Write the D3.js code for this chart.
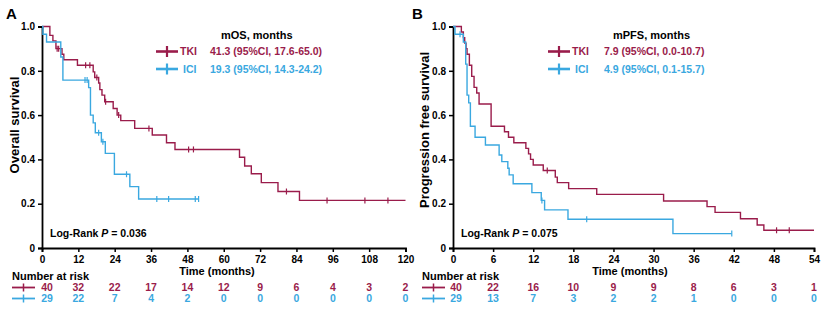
<!DOCTYPE html>
<html>
<head>
<meta charset="utf-8">
<script src="https://cdn.jsdelivr.net/npm/d3@7"></script>
<style>
  body { margin: 0; background: #fff; }
  svg { display: block; font-family: Arial, "Liberation Sans", sans-serif; font-weight: bold; }
</style>
</head>
<body>
<div id="chart"></div>
<script>
// ---- data ----
var red = "#9a1c4b", blue = "#3aa8e0";

// Panel A: overall survival
var osTkiTime = [2.6, 3.6, 4.6, 6.6, 7.2, 11.7, 16.9, 17.4, 18.7, 19.1, 19.8, 20.7, 23.5, 24.8, 26.0, 30.6, 36.4, 41.1, 43.9, 65.2, 66.9, 69.1, 72.4, 77.9, 85.0];
var osTkiSurv = [0.96, 0.935, 0.90, 0.875, 0.85, 0.825, 0.795, 0.77, 0.745, 0.715, 0.69, 0.66, 0.63, 0.60, 0.575, 0.54, 0.51, 0.475, 0.445, 0.41, 0.37, 0.335, 0.295, 0.255, 0.215];
var osTkiCens = [5.0, 5.5, 14.4, 15.8, 18.1, 21.0, 25.3, 35.3, 48.4, 50.0, 80.7, 94.1, 106.6, 114.2];
var osTkiEnd = 120;

var osIciTime = [0.3, 1.5, 6.2, 6.9, 15.4, 16.0, 16.9, 17.6, 19.6, 20.9, 23.9, 29.0, 31.9];
var osIciSurv = [0.965, 0.93, 0.862, 0.758, 0.724, 0.60, 0.565, 0.52, 0.48, 0.427, 0.333, 0.277, 0.221];
var osIciCens = [14.2, 14.9, 18.7, 20.1, 27.9, 37.9, 41.8, 50.6, 51.7];
var osIciEnd = 51.8;

var osRiskTimes = [0, 12, 24, 36, 48, 60, 72, 84, 96, 108, 120];
var osRiskTki = [40, 32, 22, 17, 14, 12, 9, 6, 4, 3, 2];
var osRiskIci = [29, 22, 7, 4, 2, 0, 0, 0, 0, 0, 0];

// Panel B: progression free survival
var pfsTkiTime = [1.25, 1.55, 1.75, 1.95, 2.1, 2.45, 2.8, 3.15, 3.55, 3.9, 5.7, 7.7, 8.3, 9.1, 10.9, 11.3, 11.6, 12.0, 13.5, 15.3, 15.6, 17.3, 21.5, 31.5, 38.0, 39.2, 43.0, 45.5, 46.5];
var pfsTkiSurv = [0.975, 0.95, 0.925, 0.90, 0.875, 0.825, 0.775, 0.725, 0.70, 0.65, 0.55, 0.525, 0.50, 0.475, 0.45, 0.425, 0.40, 0.375, 0.35, 0.32, 0.295, 0.268, 0.242, 0.212, 0.187, 0.161, 0.132, 0.104, 0.08];
var pfsTkiCens = [14.1, 48.4, 50.3];
var pfsTkiEnd = 54;

var pfsIciTime = [0.3, 1.55, 1.9, 2.1, 2.35, 2.6, 3.3, 4.85, 6.9, 7.3, 8.2, 8.4, 9.0, 11.8, 13.2, 13.7, 17.2, 32.9];
var pfsIciSurv = [0.965, 0.93, 0.83, 0.69, 0.655, 0.55, 0.50, 0.465, 0.42, 0.39, 0.36, 0.33, 0.29, 0.25, 0.215, 0.172, 0.13, 0.065];
var pfsIciCens = [1.05, 13.3, 20.0, 41.7];
var pfsIciEnd = 41.7;

var pfsRiskTimes = [0, 6, 12, 18, 24, 30, 36, 42, 48, 54];
var pfsRiskTki = [40, 22, 16, 10, 9, 9, 8, 6, 3, 1];
var pfsRiskIci = [29, 13, 7, 3, 2, 2, 1, 0, 0, 0];

var yTicks = [0, 0.2, 0.4, 0.6, 0.8, 1.0];

var svg = d3.select("#chart").append("svg")
    .attr("width", 825)
    .attr("height", 313);

function drawPanel(p) {
    var x = d3.scaleLinear().domain([0, p.xMax]).range([p.x0, p.x1]);
    var y = d3.scaleLinear().domain([0, 1]).range([248, 26.5]);
    var g = svg.append("g");

    // panel letter
    g.append("text").attr("x", p.letterX).attr("y", 19)
        .style("font-size", "15px").text(p.letter);

    // axes
    g.append("g")
        .attr("transform", "translate(" + p.x0 + ",0)")
        .call(d3.axisLeft(y).tickValues(yTicks).tickSize(4).tickPadding(3)
            .tickFormat(function (d) { return d === 0 ? "0" : d3.format(".1f")(d); }));
    g.append("g")
        .attr("transform", "translate(0,248)")
        .call(d3.axisBottom(x).tickValues(p.riskTimes).tickSize(4).tickPadding(4));
    g.selectAll(".domain").attr("stroke", "#000").attr("stroke-width", 1.8);
    g.selectAll(".tick line").attr("stroke", "#000").attr("stroke-width", 1.5);
    g.selectAll(".tick text").style("font-size", "10px").style("font-weight", "bold")
        .style("font-family", "Arial, 'Liberation Sans', sans-serif").attr("fill", "#000");

    g.append("text")
        .attr("transform", "translate(" + p.yTitleX + "," + p.yTitleY + ") rotate(-90)")
        .attr("text-anchor", "middle")
        .style("font-size", "13px")
        .text(p.yTitle);
    g.append("text")
        .attr("x", p.xTitleX).attr("y", 274.5)
        .attr("text-anchor", "middle")
        .style("font-size", "11px")
        .text("Time (months)");

    // curves
    var line = d3.line().curve(d3.curveStepAfter)
        .x(function (d) { return x(d[0]); })
        .y(function (d) { return y(d[1]); });

    p.series.forEach(function (s) {
        var pts = [[0, 1]];
        s.time.forEach(function (t, i) { pts.push([t, s.surv[i]]); });
        pts.push([s.end, s.surv[s.surv.length - 1]]);
        g.append("path").datum(pts)
            .attr("d", line)
            .attr("fill", "none")
            .attr("stroke", s.color)
            .attr("stroke-width", 1.4);
        g.selectAll(null).data(s.cens).enter().append("line")
            .attr("x1", function (c) { return x(c); })
            .attr("x2", function (c) { return x(c); })
            .attr("y1", function (c) {
                var i = d3.bisectRight(s.time, c);
                return y(i === 0 ? 1 : s.surv[i - 1]) - 3;
            })
            .attr("y2", function (c) {
                var i = d3.bisectRight(s.time, c);
                return y(i === 0 ? 1 : s.surv[i - 1]) + 3;
            })
            .attr("stroke", s.color)
            .attr("stroke-width", 1.2);
    });

    // legend
    g.append("text").attr("x", p.headX).attr("y", 39)
        .style("font-size", "11px").text(p.head);
    p.series.forEach(function (s, i) {
        var ly = 51.5 + i * 17.5;
        g.append("line").attr("x1", p.symX).attr("x2", p.symX + 22)
            .attr("y1", ly).attr("y2", ly)
            .attr("stroke", s.color).attr("stroke-width", 2.6);
        g.append("line").attr("x1", p.symX + 11).attr("x2", p.symX + 11)
            .attr("y1", ly - 5.5).attr("y2", ly + 5.5)
            .attr("stroke", s.color).attr("stroke-width", 2.2);
        g.append("text").attr("x", p.symX + (i === 0 ? 24 : 27)).attr("y", ly + 3.8)
            .attr("fill", s.color).style("font-size", "10.5px").text(s.name);
        g.append("text").attr("x", p.valX).attr("y", ly + 3.8)
            .attr("fill", s.color).style("font-size", "10.5px").text(s.median);
    });

    // log-rank
    var lr = g.append("text").attr("x", p.x0 + 8).attr("y", 237)
        .style("font-size", "10.5px");
    lr.append("tspan").text("Log-Rank ");
    lr.append("tspan").style("font-style", "italic").text("P");
    lr.append("tspan").text(" = " + p.pval);

    // number at risk
    g.append("text").attr("x", p.riskLabelX).attr("y", 280)
        .style("font-size", "11px").text("Number at risk");
    p.series.forEach(function (s, i) {
        var ry = 287.5 + i * 11;
        g.append("line").attr("x1", p.riskLabelX).attr("x2", p.riskLabelX + 23)
            .attr("y1", ry).attr("y2", ry)
            .attr("stroke", s.color).attr("stroke-width", 1.8);
        g.append("line").attr("x1", p.riskLabelX + 11.5).attr("x2", p.riskLabelX + 11.5)
            .attr("y1", ry - 4).attr("y2", ry + 4)
            .attr("stroke", s.color).attr("stroke-width", 1.5);
        g.selectAll(null).data(s.risk).enter().append("text")
            .attr("x", function (d, j) { return x(p.riskTimes[j]) + (j === 0 ? p.firstShift : 0); })
            .attr("y", ry + 3.7)
            .attr("text-anchor", "middle")
            .attr("fill", s.color)
            .style("font-size", "10.5px")
            .text(function (d) { return d; });
    });
}

drawPanel({
    letter: "A", letterX: 6, x0: 42, x1: 405.5, xMax: 120,
    yTitle: "Overall survival", yTitleX: 19, yTitleY: 125, xTitleX: 217,
    riskTimes: osRiskTimes, riskLabelX: 12, firstShift: 5,
    head: "mOS, months", headX: 221, symX: 156, valX: 210,
    pval: "0.036",
    series: [
        { name: "TKI", color: red, time: osTkiTime, surv: osTkiSurv, cens: osTkiCens, end: osTkiEnd, risk: osRiskTki, median: "41.3 (95%CI, 17.6-65.0)" },
        { name: "ICI", color: blue, time: osIciTime, surv: osIciSurv, cens: osIciCens, end: osIciEnd, risk: osRiskIci, median: "19.3 (95%CI, 14.3-24.2)" }
    ]
});

drawPanel({
    letter: "B", letterX: 412, x0: 453, x1: 814, xMax: 54,
    yTitle: "Progression free survival", yTitleX: 429, yTitleY: 130, xTitleX: 630,
    riskTimes: pfsRiskTimes, riskLabelX: 422, firstShift: 3,
    head: "mPFS, months", headX: 613, symX: 548, valX: 604,
    pval: "0.075",
    series: [
        { name: "TKI", color: red, time: pfsTkiTime, surv: pfsTkiSurv, cens: pfsTkiCens, end: pfsTkiEnd, risk: pfsRiskTki, median: "7.9 (95%CI, 0.0-10.7)" },
        { name: "ICI", color: blue, time: pfsIciTime, surv: pfsIciSurv, cens: pfsIciCens, end: pfsIciEnd, risk: pfsRiskIci, median: "4.9 (95%CI, 0.1-15.7)" }
    ]
});
</script>
</body>
</html>
